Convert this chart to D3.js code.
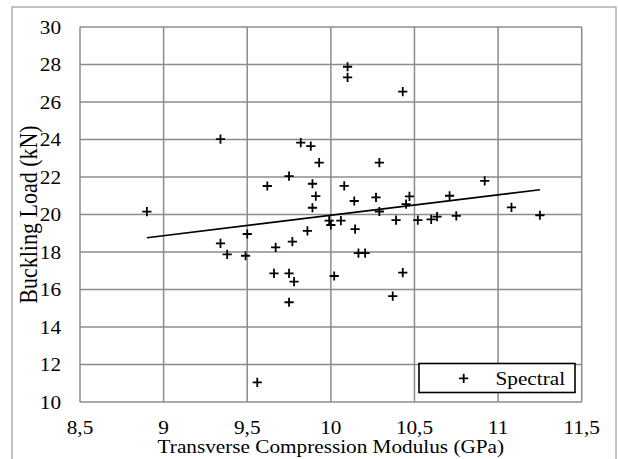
<!DOCTYPE html>
<html>
<head>
<meta charset="utf-8">
<script src="https://cdn.jsdelivr.net/npm/d3@7"></script>
<style>
  html, body { margin: 0; padding: 0; background: #fff; }
  svg { display: block; }
  text { font-family: "Liberation Serif", "Times New Roman", serif; fill: #000; }
</style>
</head>
<body>
<div id="chart"></div>
<script>
// ---- data ----
const modulus = [8.90, 9.34, 9.34, 9.38, 9.49, 9.50, 9.56, 9.62, 9.66, 9.67,
                 9.75, 9.75, 9.75, 9.77, 9.78, 9.82, 9.86, 9.88, 9.89, 9.89,
                 9.93, 9.91, 9.99, 10.00, 10.02, 10.06, 10.08, 10.10, 10.10, 10.14,
                 10.145, 10.165, 10.205, 10.27, 10.29, 10.29, 10.37, 10.39, 10.43, 10.43,
                 10.45, 10.47, 10.52, 10.60, 10.635, 10.71, 10.75, 10.92, 11.08, 11.25];
const buckling = [20.15, 24.02, 18.46, 17.87, 17.80, 18.96, 11.05, 21.52, 16.86, 18.25,
                  22.05, 16.86, 15.32, 18.55, 16.42, 23.83, 19.13, 23.65, 21.64, 20.36,
                  22.77, 20.98, 19.67, 19.44, 16.72, 19.67, 21.53, 27.88, 27.31, 20.72,
                  19.22, 17.94, 17.94, 20.91, 22.77, 20.16, 15.65, 19.70, 26.55, 16.90,
                  20.55, 20.97, 19.70, 19.74, 19.89, 21.00, 19.93, 21.79, 20.38, 19.96];
const trendX = [8.90, 11.25];
const trendY = [18.76, 21.32];
const xTicks = [8.5, 9, 9.5, 10, 10.5, 11, 11.5];
const yTicks = [10, 12, 14, 16, 18, 20, 22, 24, 26, 28, 30];
const seriesName = "Spectral";
const xTitle = "Transverse Compression Modulus (GPa)";
const yTitle = "Buckling Load (kN)";

// ---- layout ----
const W = 618, H = 459;
const sx = 1.18; // horizontal stretch of the original picture
const svg = d3.select("#chart").append("svg").attr("width", W).attr("height", H);
svg.append("rect").attr("width", W).attr("height", H).attr("fill", "#fff");

// outer chart border
svg.append("rect").attr("x", 12).attr("y", 7).attr("width", 604).attr("height", 470)
  .attr("fill", "none").attr("stroke", "#a3a3a3").attr("stroke-width", 1.3);

const x = d3.scaleLinear().domain([8.5, 11.5]).range([80, 581.7]);
const y = d3.scaleLinear().domain([10, 30]).range([402, 27]);
const fmt = v => String(v).replace(".", ",");
const gridColor = "#8c8c8c";

// grid
svg.append("g").selectAll("line").data(xTicks).join("line")
  .attr("x1", d => x(d)).attr("x2", d => x(d)).attr("y1", y(10)).attr("y2", y(30))
  .attr("stroke", gridColor).attr("stroke-width", 1.5);
svg.append("g").selectAll("line").data(yTicks).join("line")
  .attr("x1", x(8.5)).attr("x2", x(11.5)).attr("y1", d => y(d)).attr("y2", d => y(d))
  .attr("stroke", gridColor).attr("stroke-width", 1.5);

// tick labels
svg.append("g").selectAll("text").data(xTicks).join("text")
  .attr("transform", d => `translate(${x(d)},433.5) scale(${sx},1)`)
  .attr("text-anchor", "middle").attr("font-size", 18).text(fmt);
svg.append("g").selectAll("text").data(yTicks).join("text")
  .attr("transform", d => `translate(61,${y(d) + 6.5}) scale(${sx},1)`)
  .attr("text-anchor", "end").attr("font-size", 18).text(fmt);

// axis titles
svg.append("text").attr("transform", `translate(${x(10)},453) scale(${sx},1)`)
  .attr("text-anchor", "middle").attr("font-size", 18).text(xTitle);
svg.append("text").attr("transform", `translate(37,${y(20)}) scale(${sx},1) rotate(-90)`)
  .attr("text-anchor", "middle").attr("font-size", 22).text(yTitle);

// trend line
svg.append("line")
  .attr("x1", x(trendX[0])).attr("y1", y(trendY[0]))
  .attr("x2", x(trendX[1])).attr("y2", y(trendY[1]))
  .attr("stroke", "#000").attr("stroke-width", 1.6);

// markers
const arm = 4.6;
const pts = modulus.map((m, i) => ({ m, b: buckling[i] }));
svg.append("g").selectAll("path").data(pts).join("path")
  .attr("d", d => `M${x(d.m) - arm},${y(d.b)}H${x(d.m) + arm}M${x(d.m)},${y(d.b) - arm}V${y(d.b) + arm}`)
  .attr("stroke", "#000").attr("stroke-width", 1.8).attr("fill", "none");

// legend
const lg = svg.append("g");
lg.append("rect").attr("x", 419).attr("y", 363.5).attr("width", 156).attr("height", 29)
  .attr("fill", "#fff").attr("stroke", "#000").attr("stroke-width", 1.6);
lg.append("path")
  .attr("d", `M${463.7 - arm},378.3H${463.7 + arm}M463.7,${378.3 - arm}V${378.3 + arm}`)
  .attr("stroke", "#000").attr("stroke-width", 1.8);
lg.append("text").attr("transform", `translate(495.5,385) scale(${sx},1)`)
  .attr("font-size", 18).text(seriesName);
</script>
</body>
</html>
